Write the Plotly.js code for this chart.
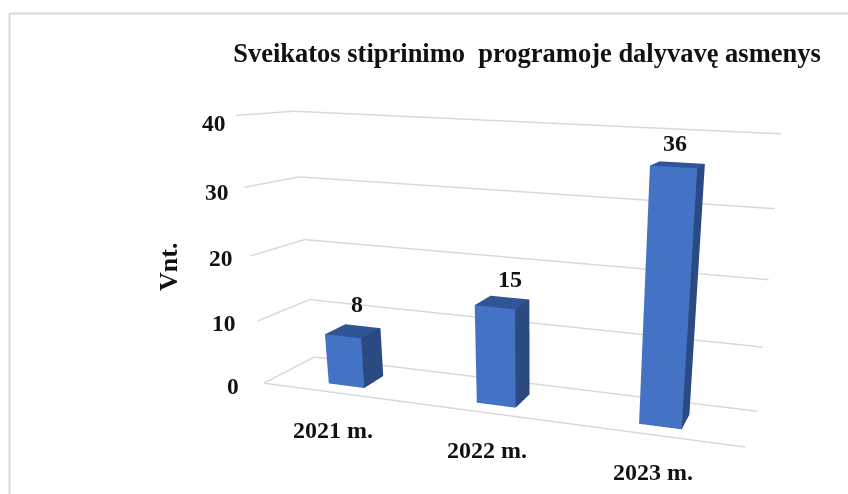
<!DOCTYPE html>
<html><head><meta charset="utf-8"><script src="https://cdn.plot.ly/plotly-3.0.1.min.js"></script>
<style>html,body{margin:0;padding:0;background:#fff;overflow:hidden;width:848px;height:494px}#c{width:1400px;height:900px}</style></head>
<body><div id="c"></div><script>
const categories=['2021 m.','2022 m.','2023 m.'];
const values=[8,15,36];
const ticks=[0,10,20,30,40];
const chartTitle='Sveikatos stiprinimo\u00a0 programoje dalyvavę asmenys';
const yTitle='Vnt.';
const W=1400,H=900;
const wd=.1241,d0=.2327,d1=.6578;
const tickShiftX=[-23,-20,-16,-13,-8],tickShiftY=[-3,-2,-2,-4,-8];
const valShiftX=[-6,0,-7],valShiftY=[22,19,20];
const catShiftX=[-2,-1,-3];
const mk=(i)=>{const c=i+.5,v=values[i];
 const X=[c-wd,c+wd,c+wd,c-wd,c-wd,c+wd,c+wd,c-wd],Y=[d0,d0,d1,d1,d0,d0,d1,d1],Z=[0,0,0,0,v,v,v,v];
 return {type:'mesh3d',x:X,y:Y,z:Z,flatshading:true,
 i:[0,0,1,1,4,4],j:[1,5,2,6,5,6],k:[5,4,6,5,6,7],
 facecolor:['#4472C4','#4472C4','#2C4A82','#2C4A82','#2F5597','#2F5597'],
 lighting:{ambient:1,diffuse:0,specular:0,roughness:1,fresnel:0},hoverinfo:'skip',showscale:false};};
const gl={color:'#D9D9D9',width:3};
const grid=ticks.map(t=>({type:'scatter3d',mode:'lines',x:[0,0,3],y:[0,1,1],z:[t,t,t],line:gl,hoverinfo:'skip',showlegend:false}));
grid.push({type:'scatter3d',mode:'lines',x:[0,3],y:[0,0],z:[0,0],line:gl,hoverinfo:'skip',showlegend:false});
const ax0={showgrid:false,zeroline:false,showline:false,showticklabels:false,showbackground:false,showspikes:false,ticks:'',title:{text:''}};
const F=s=>({family:'Liberation Serif',size:s,color:'#111'});
const anns=[...ticks.map((t,i)=>({x:0,y:0,z:t,text:String(t),showarrow:false,xanchor:'right',xshift:tickShiftX[i],yshift:tickShiftY[i],font:F(23.5)})),
 ...categories.map((c,i)=>({x:i+.5,y:0,z:0,text:c,showarrow:false,xshift:catShiftX[i],yshift:-37,font:F(24)})),
 ...values.map((v,i)=>({x:i+.5,y:d1,z:v,text:String(v),showarrow:false,xshift:valShiftX[i],yshift:valShiftY[i],font:F(24)}))];
const shapes=[{type:'line',xref:'paper',yref:'paper',x0:9.5/W,x1:9.5/W,y0:0,y1:1-13.5/H,line:{color:'#D9D9D9',width:2}},
 {type:'line',xref:'paper',yref:'paper',x0:9.5/W,x1:1,y0:1-13.5/H,y1:1-13.5/H,line:{color:'#D9D9D9',width:2}}];
Plotly.newPlot('c',[...grid,...categories.map((_,i)=>mk(i))],{width:W,height:H,margin:{l:0,r:0,t:0,b:0},paper_bgcolor:'#fff',showlegend:false,
 title:{text:'<b>'+chartTitle+'</b>',x:527/W,xanchor:'center',y:1-53/H,yanchor:'middle',font:F(26.5)},
 annotations:[{xref:'paper',yref:'paper',x:169/W,y:1-267/H,xanchor:'center',yanchor:'middle',text:'<b>'+yTitle+'</b>',textangle:-90,showarrow:false,font:F(26)}],
 shapes,
 scene:{domain:{x:[91.0784/W,1119.3787/W],y:[1-742.3293/H,1]},aspectmode:'manual',aspectratio:{x:1.3675,y:.2539,z:.7335},
  camera:{eye:{x:.8722,y:-2.1806,z:.5228},center:{x:.3023,y:-.0637,z:-.2338},up:{x:-.0491,y:.0765,z:1}},
  xaxis:{...ax0,range:[0,3]},yaxis:{...ax0,range:[0,1]},zaxis:{...ax0,range:[0,40]},annotations:anns.map(a=>({...a,text:'<b>'+a.text+'</b>'}))}
},{displayModeBar:false});
</script></body></html>
